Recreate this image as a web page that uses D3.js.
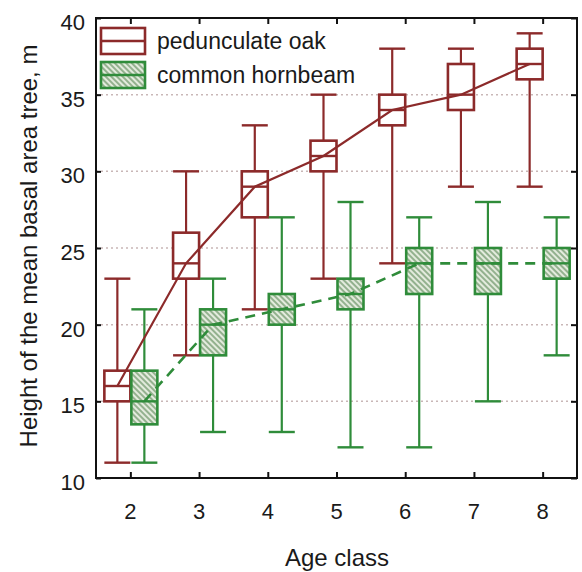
<!DOCTYPE html>
<html>
<head>
<meta charset="utf-8">
<script src="https://d3js.org/d3.v7.min.js"></script>
<style>
	body { margin: 0; background: #fff; }
	svg text { font-family: "Liberation Sans", Arial, sans-serif; fill: #1a1a1a; }
</style>
</head>
<body>
<script>
	// data
	var ageClasses = [2, 3, 4, 5, 6, 7, 8];

	var oakMin = [11, 18, 21, 23, 24, 29, 29];
	var oakQ1  = [15, 23, 27, 30, 33, 34, 36];
	var oakMed = [16, 24, 29, 31, 34, 35, 37];
	var oakQ3  = [17, 26, 30, 32, 35, 37, 38];
	var oakMax = [23, 30, 33, 35, 38, 38, 39];

	var hornMin = [11, 13, 13, 12, 12, 15, 18];
	var hornQ1  = [13.5, 18, 20, 21, 22, 22, 23];
	var hornMed = [15, 20, 21, 22, 24, 24, 24];
	var hornQ3  = [17, 21, 22, 23, 25, 25, 25];
	var hornMax = [21, 23, 27, 28, 27, 28, 27];

	var yTicks = [10, 15, 20, 25, 30, 35, 40];
	var seriesNames = ["pedunculate oak", "common hornbeam"];

function draw() {
	"use strict";
	// basic variables
	var width = 582,
		height = 572,
		pLeft = 96, pRight = 577, pTop = 18, pBottom = 478,
		boxW = 26,
		oakColor = "#8c2a2a",
		hornColor = "#2f8c3a";

	var svg = d3.select("body")
		.append("svg")
		.attr("width", width)
		.attr("height", height);

	// hatch pattern for hornbeam boxes
	var pat = svg.append("defs")
		.append("pattern")
		.attr("id", "hatch")
		.attr("patternUnits", "userSpaceOnUse")
		.attr("width", 4)
		.attr("height", 4)
		.attr("patternTransform", "rotate(-45)");
	pat.append("rect")
		.attr("width", 4).attr("height", 4)
		.attr("fill", "#e3ebdd");
	pat.append("line")
		.attr("x1", 1).attr("y1", 0).attr("x2", 1).attr("y2", 4)
		.attr("stroke", "#7fa37a")
		.attr("stroke-width", 1.6);

	var x = d3.scaleLinear().domain([1.5, 8.5]).range([pLeft, pRight]);
	var y = d3.scaleLinear().domain([10, 40]).range([pBottom, pTop]);

	// grid lines
	svg.append("g")
		.selectAll("line")
		.data(yTicks.slice(1, -1))
		.enter()
		.append("line")
		.attr("x1", pLeft).attr("x2", pRight)
		.attr("y1", function(d) { return y(d); })
		.attr("y2", function(d) { return y(d); })
		.attr("stroke", "#c9b7b7")
		.attr("stroke-width", 1.5)
		.attr("stroke-dasharray", "2,3");

	// axes with inward ticks
	svg.append("g")
		.attr("transform", "translate(0," + pBottom + ")")
		.call(d3.axisTop(x).tickValues(ageClasses).tickSize(6).tickFormat(""))
		.call(function(g) { g.select(".domain").remove(); });
	svg.append("g")
		.attr("transform", "translate(0," + pTop + ")")
		.call(d3.axisBottom(x).tickValues(ageClasses).tickSize(6).tickFormat(""))
		.call(function(g) { g.select(".domain").remove(); });
	svg.append("g")
		.attr("transform", "translate(" + pLeft + ",0)")
		.call(d3.axisRight(y).tickValues(yTicks).tickSize(5).tickFormat(""))
		.call(function(g) { g.select(".domain").remove(); });
	svg.append("g")
		.attr("transform", "translate(" + pRight + ",0)")
		.call(d3.axisLeft(y).tickValues(yTicks).tickSize(6).tickFormat(""))
		.call(function(g) { g.select(".domain").remove(); });
	svg.selectAll(".tick line").attr("stroke", "#111").attr("stroke-width", 2);

	// tick labels
	svg.append("g")
		.selectAll("text")
		.data(ageClasses)
		.enter()
		.append("text")
		.attr("x", function(d) { return x(d); })
		.attr("y", pBottom + 41)
		.attr("text-anchor", "middle")
		.style("font-size", "22px")
		.text(function(d) { return d; });

	svg.append("g")
		.selectAll("text")
		.data(yTicks)
		.enter()
		.append("text")
		.attr("x", pLeft - 11)
		.attr("y", function(d) { return y(d) + 12; })
		.attr("text-anchor", "end")
		.style("font-size", "22px")
		.text(function(d) { return d; });

	// axis titles
	svg.append("text")
		.attr("x", 337)
		.attr("y", 566)
		.attr("text-anchor", "middle")
		.style("font-size", "24px")
		.text("Age class");

	svg.append("text")
		.attr("transform", "translate(37,246) rotate(-90)")
		.attr("text-anchor", "middle")
		.style("font-size", "24px")
		.text("Height of the mean basal area tree, m");

	// box plots
	function drawBoxes(cls, offset, mins, q1, med, q3, maxs, color, fill) {
		var g = svg.append("g").attr("class", cls);
		var cx = function(i) { return x(ageClasses[i]) + offset; };
		var idx = d3.range(ageClasses.length);

		// whiskers
		g.selectAll(null)
			.data(idx)
			.enter()
			.append("line")
			.attr("x1", cx).attr("x2", cx)
			.attr("y1", function(i) { return y(mins[i]); })
			.attr("y2", function(i) { return y(maxs[i]); })
			.attr("stroke", color)
			.attr("stroke-width", 2.2);

		// caps
		[mins, maxs].forEach(function(arr) {
			g.selectAll(null)
				.data(idx)
				.enter()
				.append("line")
				.attr("x1", function(i) { return cx(i) - boxW / 2; })
				.attr("x2", function(i) { return cx(i) + boxW / 2; })
				.attr("y1", function(i) { return y(arr[i]); })
				.attr("y2", function(i) { return y(arr[i]); })
				.attr("stroke", color)
				.attr("stroke-width", 2.4);
		});

		// boxes
		g.selectAll(null)
			.data(idx)
			.enter()
			.append("rect")
			.attr("x", function(i) { return cx(i) - boxW / 2; })
			.attr("y", function(i) { return y(q3[i]); })
			.attr("width", boxW)
			.attr("height", function(i) { return y(q1[i]) - y(q3[i]); })
			.attr("fill", fill)
			.attr("stroke", color)
			.attr("stroke-width", 2.6);

		// medians
		g.selectAll(null)
			.data(idx)
			.enter()
			.append("line")
			.attr("x1", function(i) { return cx(i) - boxW / 2; })
			.attr("x2", function(i) { return cx(i) + boxW / 2; })
			.attr("y1", function(i) { return y(med[i]); })
			.attr("y2", function(i) { return y(med[i]); })
			.attr("stroke", color)
			.attr("stroke-width", 2.4);

		return cx;
	}

	var oakX = drawBoxes("oak", -13, oakMin, oakQ1, oakMed, oakQ3, oakMax, oakColor, "#fff");
	var hornX = drawBoxes("horn", 14, hornMin, hornQ1, hornMed, hornQ3, hornMax, hornColor, "url(#hatch)");

	// lines through medians
	var idx = d3.range(ageClasses.length);
	svg.append("path")
		.datum(idx)
		.attr("fill", "none")
		.attr("stroke", oakColor)
		.attr("stroke-width", 2.2)
		.attr("d", d3.line()
			.x(function(i) { return oakX(i); })
			.y(function(i) { return y(oakMed[i]); }));

	svg.append("path")
		.datum(idx)
		.attr("fill", "none")
		.attr("stroke", hornColor)
		.attr("stroke-width", 2.6)
		.attr("stroke-dasharray", "10,7")
		.attr("d", d3.line()
			.x(function(i) { return hornX(i); })
			.y(function(i) { return y(hornMed[i]); }));

	// frame
	svg.append("rect")
		.attr("x", pLeft).attr("y", pTop)
		.attr("width", pRight - pLeft).attr("height", pBottom - pTop)
		.attr("fill", "none")
		.attr("stroke", "#111")
		.attr("stroke-width", 2);

	// legend
	var legend = svg.append("g").attr("transform", "translate(101,28)");
	var legendColors = [oakColor, hornColor];
	var legendFills = ["#fff", "url(#hatch)"];
	seriesNames.forEach(function(name, i) {
		var row = legend.append("g").attr("transform", "translate(0," + (i * 34) + ")");
		row.append("rect")
			.attr("width", 44).attr("height", 26)
			.attr("fill", legendFills[i])
			.attr("stroke", legendColors[i])
			.attr("stroke-width", 2.6);
		row.append("line")
			.attr("x1", 0).attr("x2", 44)
			.attr("y1", 13).attr("y2", 13)
			.attr("stroke", legendColors[i])
			.attr("stroke-width", 2.4);
		row.append("text")
			.attr("x", 56)
			.attr("y", 21)
			.style("font-size", "23px")
			.text(name);
	});
}

draw();
</script>
</body>
</html>
